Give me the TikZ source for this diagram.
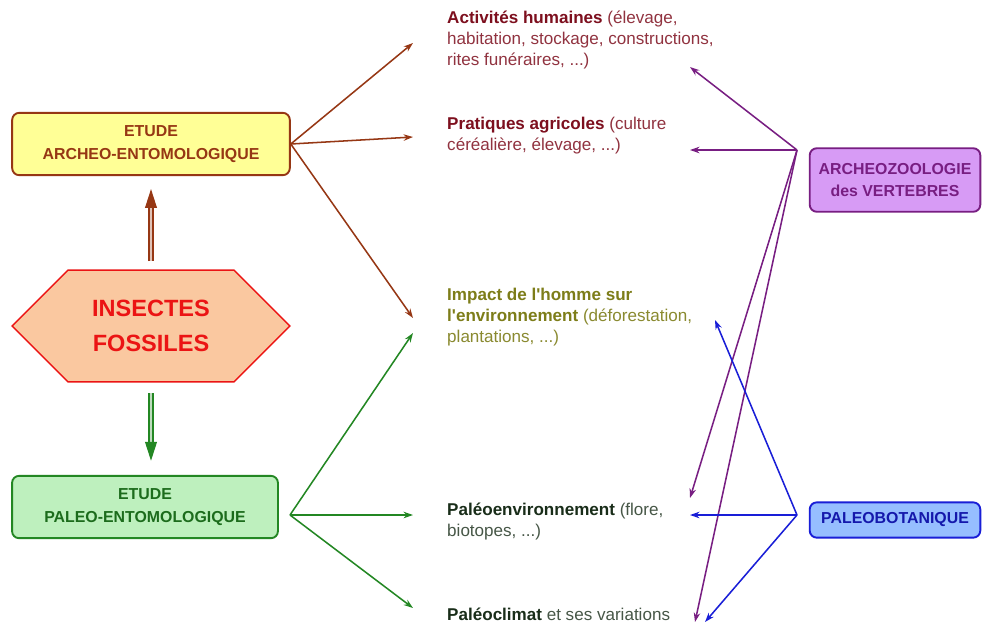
\documentclass[tikz,border=0pt]{standalone}
\usepackage{fontspec}
\setmainfont{Liberation Sans}
\usetikzlibrary{arrows.meta,positioning,shapes.symbols}

\definecolor{brun}{RGB}{150,55,20}
\definecolor{jaune}{RGB}{255,255,150}
\definecolor{peche}{RGB}{250,200,160}
\definecolor{rouge}{RGB}{235,20,20}
\definecolor{vert}{RGB}{35,135,35}
\definecolor{vertclair}{RGB}{190,240,190}
\definecolor{violet}{RGB}{120,30,130}
\definecolor{lavande}{RGB}{215,155,245}
\definecolor{bleu}{RGB}{25,30,215}
\definecolor{bleuclair}{RGB}{150,190,255}
\definecolor{bordeaux}{RGB}{125,15,30}
\definecolor{olive}{RGB}{125,125,25}
\definecolor{sombre}{RGB}{25,45,25}

\begin{document}
\begin{tikzpicture}[x=0.85pt, y=-0.85pt,
  etude/.style={draw, rounded corners=6pt, line width=1.6pt, align=center,
                inner sep=0pt, font=\fontsize{13.5}{20}\selectfont\bfseries},
  descr/.style={anchor=north west, align=left, inner sep=0pt,
                font=\fontsize{14.5}{17.8}\selectfont},
  lien/.style={line width=1.3pt, -{Stealth[length=8pt,width=5.5pt]}},
  gros/.style={double distance=2.4pt, line width=1.1pt,
               -{Triangle[length=16pt,width=10pt]}}
]
  \useasboundingbox[fill=white] (0,0) rectangle (983,626);

  % boites de gauche
  \node[etude, draw=brun, fill=jaune, text=brun, minimum width=236pt,
        minimum height=53pt] (archeo) at (151,144) {ETUDE\\ARCHEO-ENTOMOLOGIQUE};
  \node[signal, signal to=east and west, signal pointer angle=90,
        draw=rouge, fill=peche, line width=1.2pt, text=rouge, align=center,
        minimum width=236pt, minimum height=95pt, inner sep=0pt,
        font=\fontsize{20}{30}\selectfont\bfseries] (insectes) at (151,326) {INSECTES\\FOSSILES};
  \node[etude, draw=vert, fill=vertclair, text=vert!80!black, minimum width=226pt,
        minimum height=53pt] (paleo) at (145,507) {ETUDE\\PALEO-ENTOMOLOGIQUE};

  % boites de droite
  \node[etude, draw=violet, fill=lavande, text=violet, minimum width=145pt,
        minimum height=54pt, font=\fontsize{13.5}{19}\selectfont\bfseries] (zoo) at (895,180) {ARCHEOZOOLOGIE\\des VERTEBRES};
  \node[etude, draw=bleu, fill=bleuclair, text=bleu!80!black, minimum width=145pt,
        minimum height=30pt] (bota) at (895,520) {PALEOBOTANIQUE};

  % textes
  \node[descr, text=bordeaux!85!white] (act) at (447,11)
    {\textbf{\color{bordeaux}Activités humaines} (élevage,\\habitation, stockage, constructions,\\rites funéraires, ...)};
  \node[descr, text=bordeaux!85!white] (agri) at (447,117)
    {\textbf{\color{bordeaux}Pratiques agricoles} (culture\\céréalière, élevage, ...)};
  \node[descr, text=olive!90!white] (impact) at (447,288)
    {\textbf{\color{olive}Impact de l\textquotesingle homme sur}\\\textbf{\color{olive}l\textquotesingle environnement} (déforestation,\\plantations, ...)};
  \node[descr, text=sombre!80!white] (env) at (447,503)
    {\textbf{\color{sombre}Paléoenvironnement} (flore,\\biotopes, ...)};
  \node[descr, text=sombre!80!white] (climat) at (447,608)
    {\textbf{\color{sombre}Paléoclimat} et ses variations};

  % bouts de fleches
  \coordinate (g1) at (413,43);
  \coordinate (g2) at (413,137);
  \coordinate (g3) at (413,318);
  \coordinate (g4) at (413,333);
  \coordinate (g5) at (413,515);
  \coordinate (g6) at (413,608);
  \coordinate (d1) at (690,67);
  \coordinate (d2) at (690,150);
  \coordinate (d3) at (715,320);
  \coordinate (d4) at (690,498);
  \coordinate (d5) at (690,515);
  \coordinate (d6) at (695,622);
  \coordinate (d7) at (705,622);
  \coordinate (zoo0) at (797,150);
  \coordinate (bota0) at (797,515);
  \coordinate (paleo0) at (290,515);

  % grosses fleches
  \draw[gros, brun, double=brun!30, shorten <=7pt, shorten >=11pt]
    (insectes.north) -- (insectes.north |- archeo.south);
  \draw[gros, vert, double=vert!30, shorten <=9pt, shorten >=12pt]
    (insectes.south) -- (insectes.south |- paleo.north);

  \foreach \t in {g1,g2,g3}
    \draw[lien, brun] (archeo.east) -- (\t);
  \foreach \t in {g4,g5,g6}
    \draw[lien, vert] (paleo0) -- (\t);
  \foreach \t in {d1,d2,d4,d6}
    \draw[lien, violet] (zoo0) -- (\t);
  \foreach \t in {d3,d5,d7}
    \draw[lien, bleu] (bota0) -- (\t);
\end{tikzpicture}
\end{document}
